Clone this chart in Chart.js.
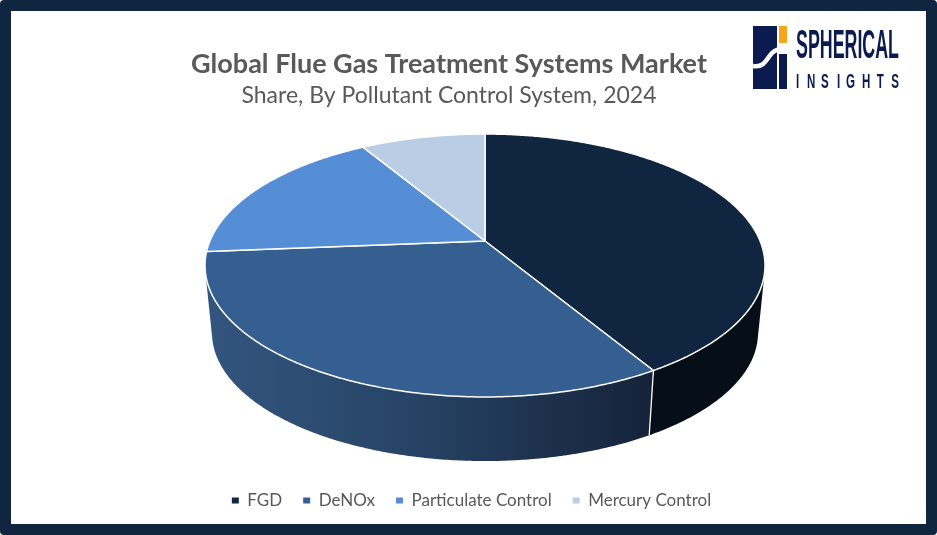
<!DOCTYPE html>
<html>
<head>
<meta charset="utf-8">
<title>Global Flue Gas Treatment Systems Market</title>
<script src="https://cdn.jsdelivr.net/npm/chart.js@4"></script>
<style>
    html, body { margin: 0; padding: 0; background: #fff; }
    #frame { position: absolute; left: 0; top: 0; width: 915px; height: 513px; border: 11px solid #10253f; border-radius: 4px; }
    #chart { position: absolute; left: 0; top: 0; }
    #logo { position: absolute; left: 745px; top: 20px; }
</style>
</head>
<body>
<div id="frame"></div>
<canvas id="chart" width="937" height="535"></canvas>
<svg id="logo" width="165" height="75" viewBox="745 20 165 75">
    <rect x="753" y="26" width="34" height="63" fill="#0b1a4f"/>
    <rect x="777" y="26" width="10" height="28" fill="#fff"/>
    <rect x="779" y="26" width="8" height="17" fill="#f9a51a"/>
    <path d="M753 66 C765 68 767 58 772 53 C776 49 781 48 787 48" fill="none" stroke="#fff" stroke-width="4.5"/>
    <rect x="777" y="54" width="2" height="35" fill="#fff"/>
    <text x="796" y="58" font-family="Liberation Sans Narrow, Liberation Sans" font-weight="bold" font-size="41" fill="#0b1a4f" textLength="103" lengthAdjust="spacingAndGlyphs">SPHERICAL</text>
    <text transform="translate(796 88) scale(0.55 1)" x="0 20 45.5 74.5 91 120 147 173" y="0" font-family="Liberation Sans" font-weight="bold" font-size="21" fill="#0b1a4f">INSIGHTS</text>
</svg>
<script>
// Data
const categories = ["FGD", "DeNOx", "Particulate Control", "Mercury Control"];
const shares = [41.4, 32.3, 17.7, 8.6];
const topColors = ["#10253f", "#365f91", "#558ed5", "#b9cde5"];

// The original is a tilted 3D pie, so the slice angles from Chart.js get projected
const view = { cx: 485, apexY: 241, a: 126.9, b: 275.1, k: 0.1863 };
const floorScale = 0.975;
const floorApexY = 309;

function project(angle, scale, apexY) {
    let u = Math.cos(angle);
    let v = Math.sin(angle);
    let w = 1 - view.k * v;
    return {
        x: view.cx + scale * view.b * u / w,
        y: apexY + scale * view.a * v / w
    };
}

function sideFill(ctx, index) {
    // FGD wall is almost black, the others fade to the right
    let grad = ctx.createLinearGradient(205, 0, 650, 0);
    if (index === 0) {
        grad.addColorStop(0, "#060f17");
        grad.addColorStop(1, "#060f17");
    } else {
        grad.addColorStop(0, "#33567f");
        grad.addColorStop(0.45, "#274466");
        grad.addColorStop(1, "#16233a");
    }
    return grad;
}

// only the part of the rim that faces the viewer gets a wall
function facesViewer(a, step) {
    let p1 = project(a, 1, view.apexY);
    let p2 = project(a + step, 1, view.apexY);
    let p4 = project(a, floorScale, floorApexY);
    return (p2.x - p1.x) * (p4.y - p1.y) - (p2.y - p1.y) * (p4.x - p1.x) < 0;
}

const pie3d = {
    id: "pie3d",
    beforeDatasetsDraw(chart) {
        let ctx = chart.ctx;
        let arcs = chart.getDatasetMeta(0).data;
        let step = Math.PI / 360;
        ctx.save();
        ctx.lineJoin = "round";

        // side walls
        arcs.forEach(function (arc, i) {
            let angles = [];
            for (let a = arc.startAngle; a < arc.endAngle; a += step) {
                if (facesViewer(a, step)) angles.push(a);
            }
            if (angles.length === 0) return;
            if (facesViewer(arc.endAngle - step, step)) angles.push(arc.endAngle);
            ctx.beginPath();
            angles.forEach(function (a, n) {
                let p = project(a, 1, view.apexY);
                if (n === 0) ctx.moveTo(p.x, p.y);
                else ctx.lineTo(p.x, p.y);
            });
            angles.slice().reverse().forEach(function (a) {
                let p = project(a, floorScale, floorApexY);
                ctx.lineTo(p.x, p.y);
            });
            ctx.closePath();
            ctx.fillStyle = sideFill(ctx, i);
            ctx.fill();
        });

        // seam between the FGD and DeNOx walls
        let seam = arcs[0].endAngle;
        let s1 = project(seam, 1, view.apexY);
        let s2 = project(seam, floorScale, floorApexY);
        ctx.strokeStyle = "#fff";
        ctx.lineWidth = 1.3;
        ctx.beginPath();
        ctx.moveTo(s1.x, s1.y);
        ctx.lineTo(s2.x, s2.y);
        ctx.stroke();

        // top face
        arcs.forEach(function (arc, i) {
            ctx.beginPath();
            ctx.moveTo(view.cx, view.apexY);
            for (let a = arc.startAngle; a < arc.endAngle; a += step) {
                let p = project(a, 1, view.apexY);
                ctx.lineTo(p.x, p.y);
            }
            let end = project(arc.endAngle, 1, view.apexY);
            ctx.lineTo(end.x, end.y);
            ctx.closePath();
            ctx.fillStyle = topColors[i];
            ctx.fill();
            ctx.strokeStyle = "#fff";
            ctx.lineWidth = 1.5;
            ctx.stroke();
        });
        ctx.restore();
        return false;
    },
    // title and legend are not centred on the same axis in the original
    afterLayout(chart) {
        chart.boxes.forEach(function (box) {
            let shift = 0;
            if (box === chart.legend) shift = 3;
            else if (box.options && box.options.text) shift = -19.5;
            box.left += shift;
            box.right += shift;
        });
    }
};

new Chart(document.getElementById("chart").getContext("2d"), {
    type: "pie",
    data: {
        labels: categories,
        datasets: [{
            data: shares,
            backgroundColor: topColors,
            borderWidth: 0
        }]
    },
    options: {
        responsive: false,
        animation: false,
        layout: { padding: { top: 48, bottom: 16 } },
        plugins: {
            title: {
                display: true,
                text: "Global Flue Gas Treatment Systems Market",
                color: "#595959",
                font: { family: "Lato", size: 27, weight: "bold" },
                padding: { top: 0, bottom: 1 }
            },
            subtitle: {
                display: true,
                text: "Share, By Pollutant Control System, 2024",
                color: "#595959",
                font: { family: "Lato", size: 23, weight: "normal" },
                padding: { top: 0, bottom: 0 }
            },
            legend: {
                position: "bottom",
                labels: {
                    usePointStyle: true,
                    pointStyle: "rect",
                    pointStyleWidth: 7,
                    boxHeight: 6,
                    padding: 21,
                    color: "#595959",
                    font: { family: "Lato", size: 17 }
                }
            },
            tooltip: { enabled: false }
        }
    },
    plugins: [pie3d]
});
</script>
</body>
</html>
